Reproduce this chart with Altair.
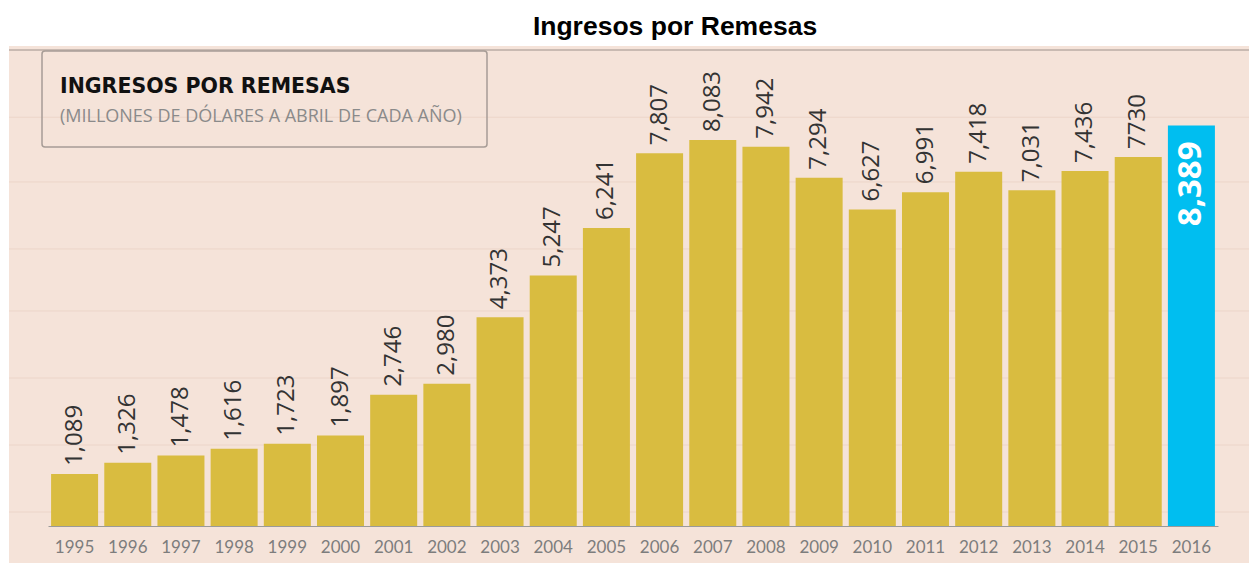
import altair as alt
import pandas as pd

# ---- data ----
years = ["1995", "1996", "1997", "1998", "1999", "2000", "2001", "2002", "2003",
         "2004", "2005", "2006", "2007", "2008", "2009", "2010", "2011", "2012",
         "2013", "2014", "2015", "2016"]
values = [1089, 1326, 1478, 1616, 1723, 1897, 2746, 2980, 4373, 5247, 6241,
          7807, 8083, 7942, 7294, 6627, 6991, 7418, 7031, 7436, 7730, 8389]
labels = ["1,089", "1,326", "1,478", "1,616", "1,723", "1,897", "2,746", "2,980",
          "4,373", "5,247", "6,241", "7,807", "8,083", "7,942", "7,294", "6,627",
          "6,991", "7,418", "7,031", "7,436", "7730", "8,389"]
grid_values = [293, 1696, 3099, 4503, 5801, 7204, 8560]
highlight_year = "2016"
chart_title = "Ingresos por Remesas"
box_title = "INGRESOS POR REMESAS"
box_subtitle = "(MILLONES DE DÓLARES A ABRIL DE CADA AÑO)"

# ---- styles ----
GOLD = "#d9bc40"
CYAN = "#00bef0"
PINK = "#f5e3d9"
GRID = "#ecd5c9"

df = pd.DataFrame({"year": years, "value": values, "label": labels})
grid_df = pd.DataFrame({"g": grid_values})
one = pd.DataFrame({"a": [0]})

yscale = alt.Scale(domain=[-775, 10052], nice=False, zero=False)
xscale = alt.Scale(range=[39, 1209], paddingInner=0.116, paddingOuter=0.058)

x_enc = alt.X(
    "year:N", sort=years, scale=xscale,
    axis=alt.Axis(title=None, orient="bottom", offset=-37, domainColor="#9a9a9a",
                  domainWidth=1, ticks=False, tickSize=0, labelAngle=0,
                  labelFont="Lato", labelFontSize=17,
                  labelColor="#7d7d7d", labelPadding=13, grid=False),
)
y_enc = alt.Y("value:Q", scale=yscale, axis=None)

grid = alt.Chart(grid_df).mark_rule(color=GRID, strokeWidth=1).encode(
    y=alt.Y("g:Q", scale=yscale, axis=None)
)

top_line = alt.Chart(one).mark_rule(color="#c9bab2", strokeWidth=2).encode(
    x=alt.value(0), x2=alt.value(1240), y=alt.value(4)
)

box = alt.Chart(one).mark_rect(
    fillOpacity=0, stroke="#a79c96", strokeWidth=1.5, cornerRadius=3
).encode(x=alt.value(33), x2=alt.value(478), y=alt.value(5), y2=alt.value(101))

box_t = alt.Chart(one).mark_text(
    align="left", baseline="alphabetic", font="DejaVu Sans", fontWeight="bold",
    fontSize=20.5, color="#111111"
).encode(x=alt.value(51), y=alt.value(47), text=alt.value(box_title))

box_s = alt.Chart(one).mark_text(
    align="left", baseline="alphabetic", font="Open Sans", fontSize=18,
    color="#8a8a8a"
).encode(x=alt.value(51), y=alt.value(76), text=alt.value(box_subtitle))

bars = alt.Chart(df).mark_bar().encode(
    x=x_enc, y=y_enc,
    color=alt.condition(alt.datum.year == highlight_year, alt.value(CYAN), alt.value(GOLD)),
)

vlabels = alt.Chart(df).transform_filter(alt.datum.year != highlight_year).mark_text(
    angle=270, align="left", baseline="middle", dx=8, font="Open Sans",
    fontSize=24, color="#333333"
).encode(x=alt.X("year:N", sort=years, scale=xscale), y=y_enc, text="label:N")

hlabel = alt.Chart(df).transform_filter(alt.datum.year == highlight_year).mark_text(
    angle=270, align="right", baseline="middle", dx=-16, font="Open Sans",
    fontWeight="bold", fontSize=33, color="white"
).encode(x=alt.X("year:N", sort=years, scale=xscale), y=y_enc, text="label:N")

chart = alt.layer(grid, top_line, box, box_t, box_s, bars, vlabels, hlabel).properties(
    width=1240, height=517,
    autosize=alt.AutoSizeParams(type="none"),
    padding={"left": 9, "top": 46, "right": 0, "bottom": 0},
    title=alt.TitleParams(chart_title, font="Liberation Sans", fontSize=26.5,
                          fontWeight="bold", color="#000000", anchor="middle",
                          dx=46, dy=28, offset=13, baseline="alphabetic"),
    background="white",
).configure_view(fill=PINK, strokeWidth=0)

chart.save("out.html", embed_options={"renderer": "svg", "actions": False})
